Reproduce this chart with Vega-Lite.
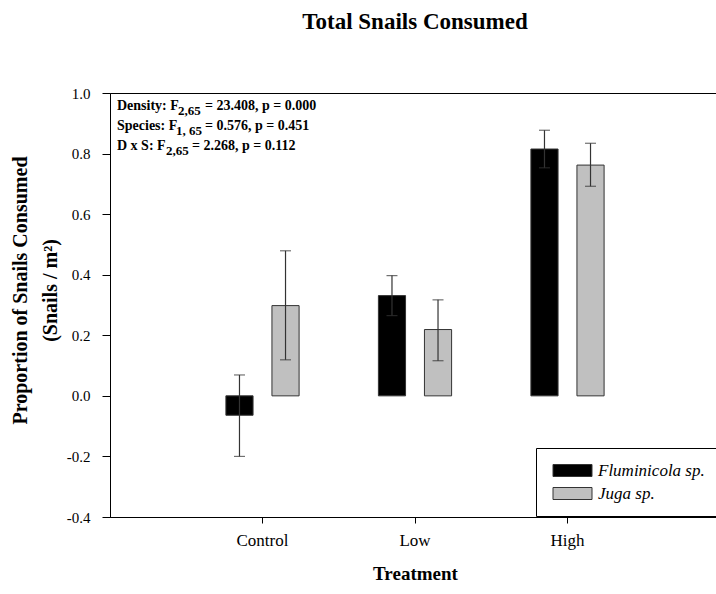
{
  "$schema": "https://vega.github.io/schema/vega-lite/v6.json",
  "width": 610,
  "height": 424,
  "autosize": "none",
  "padding": {"left": 110, "top": 93, "right": 0, "bottom": 77},
  "background": "white",
  "config": {
    "font": "Liberation Serif",
    "view": {"stroke": "#000000", "strokeWidth": 1},
    "axis": {"domainColor": "#000000", "tickColor": "#000000", "labelColor": "#000000", "titleColor": "#000000", "labelFont": "Liberation Serif", "titleFont": "Liberation Serif", "grid": false}
  },
  "title": {
    "text": "Total Snails Consumed",
    "font": "Liberation Serif",
    "fontSize": 23,
    "fontWeight": "bold",
    "color": "#000000",
    "anchor": "middle",
    "offset": 52
  },
  "datasets": {
    "bars": [
      {"treatment": "Control", "species": "Fluminicola sp.", "mean": -0.064, "lo": -0.2, "hi": 0.069},
      {"treatment": "Control", "species": "Juga sp.", "mean": 0.298, "lo": 0.119, "hi": 0.479},
      {"treatment": "Low", "species": "Fluminicola sp.", "mean": 0.331, "lo": 0.265, "hi": 0.397},
      {"treatment": "Low", "species": "Juga sp.", "mean": 0.219, "lo": 0.116, "hi": 0.317},
      {"treatment": "High", "species": "Fluminicola sp.", "mean": 0.815, "lo": 0.753, "hi": 0.877},
      {"treatment": "High", "species": "Juga sp.", "mean": 0.762, "lo": 0.692, "hi": 0.834}
    ],
    "notes": [
      {"row": 1, "pre": "Density: F", "sub": "2,65", "post": "= 23.408, p = 0.000", "y": 0.944},
      {"row": 2, "pre": "Species: F", "sub": "1, 65", "post": "= 0.576, p = 0.451", "y": 0.878},
      {"row": 3, "pre": "D x S: F", "sub": "2,65", "post": "= 2.268, p = 0.112", "y": 0.811}
    ]
  },
  "layer": [
    {
      "data": {"name": "bars"},
      "mark": {"type": "bar", "stroke": "#333333", "strokeWidth": 1},
      "encoding": {
        "x": {
          "field": "treatment", "type": "nominal",
          "sort": ["Control", "Low", "High"],
          "scale": {"paddingInner": 0.52, "paddingOuter": 0.76},
          "axis": {"title": "Treatment", "labelAngle": 0, "labelFontSize": 17, "labelPadding": 9, "tickSize": 6, "titleFontSize": 19, "titleFontWeight": "bold", "titlePadding": 16}
        },
        "xOffset": {
          "field": "species", "type": "nominal",
          "sort": ["Fluminicola sp.", "Juga sp."],
          "scale": {"paddingInner": 0.41, "paddingOuter": 0}
        },
        "y": {
          "field": "mean", "type": "quantitative",
          "scale": {"domain": [-0.4, 1.0], "nice": false, "zero": false},
          "axis": {
            "values": [-0.4, -0.2, 0, 0.2, 0.4, 0.6, 0.8, 1.0],
            "format": ".1f",
            "labelExpr": "replace(datum.label, '−', '-')",
            "labelFontSize": 15,
            "labelPadding": 12,
            "tickSize": 8,
            "title": ["Proportion of Snails Consumed", "(Snails / m²)"],
            "titleFontSize": 20,
            "titleFontWeight": "bold",
            "titleLineHeight": 30,
            "titlePadding": 6,
            "titleY": 197
          }
        },
        "color": {
          "field": "species", "type": "nominal",
          "sort": ["Fluminicola sp.", "Juga sp."],
          "scale": {"domain": ["Fluminicola sp.", "Juga sp."], "range": ["#000000", "#c0c0c0"]},
          "legend": {
            "title": null,
            "orient": "none",
            "legendX": 426,
            "legendY": 355,
            "strokeColor": "#000000",
            "fillColor": "#ffffff",
            "padding": 14,
            "symbolType": "M-3.25,-1H3.25V1H-3.25Z",
            "symbolSize": 144,
            "symbolOffset": 14,
            "symbolStrokeColor": "#333333",
            "symbolStrokeWidth": 1,
            "symbolOpacity": 1,
            "labelFont": "Liberation Serif",
            "labelFontStyle": "italic",
            "labelFontSize": 17,
            "labelColor": "#000000",
            "labelOffset": 17,
            "rowPadding": 5
          }
        }
      }
    },
    {
      "data": {"name": "bars"},
      "mark": {"type": "rule", "color": "#333333", "strokeWidth": 1.2},
      "encoding": {
        "x": {"field": "treatment", "type": "nominal", "sort": ["Control", "Low", "High"]},
        "xOffset": {"field": "species", "type": "nominal", "sort": ["Fluminicola sp.", "Juga sp."]},
        "y": {"field": "lo", "type": "quantitative"},
        "y2": {"field": "hi"}
      }
    },
    {
      "data": {"name": "bars"},
      "mark": {"type": "tick", "color": "#333333", "size": 11, "thickness": 1.2, "orient": "horizontal"},
      "encoding": {
        "x": {"field": "treatment", "type": "nominal", "sort": ["Control", "Low", "High"]},
        "xOffset": {"field": "species", "type": "nominal", "sort": ["Fluminicola sp.", "Juga sp."]},
        "y": {"field": "lo", "type": "quantitative"}
      }
    },
    {
      "data": {"name": "bars"},
      "mark": {"type": "tick", "color": "#333333", "size": 11, "thickness": 1.2, "orient": "horizontal"},
      "encoding": {
        "x": {"field": "treatment", "type": "nominal", "sort": ["Control", "Low", "High"]},
        "xOffset": {"field": "species", "type": "nominal", "sort": ["Fluminicola sp.", "Juga sp."]},
        "y": {"field": "hi", "type": "quantitative"}
      }
    },
    {
      "mark": {"type": "rule", "color": "#333333", "strokeWidth": 1},
      "encoding": {"y": {"datum": 0, "type": "quantitative"}}
    },
    {
      "data": {"name": "notes"},
      "mark": {"type": "text", "align": "left", "baseline": "alphabetic", "font": "Liberation Serif", "fontSize": 14, "fontWeight": "bold", "color": "#000000"},
      "encoding": {"x": {"value": 7}, "y": {"field": "y", "type": "quantitative"}, "text": {"field": "pre"}}
    },
    {
      "data": {"name": "notes"},
      "transform": [{"filter": "datum.row == 1"}],
      "mark": {"type": "text", "align": "left", "baseline": "alphabetic", "dy": 5, "font": "Liberation Serif", "fontSize": 13, "fontWeight": "bold", "color": "#000000"},
      "encoding": {"x": {"value": 68}, "y": {"field": "y", "type": "quantitative"}, "text": {"field": "sub"}}
    },
    {
      "data": {"name": "notes"},
      "transform": [{"filter": "datum.row == 2"}],
      "mark": {"type": "text", "align": "left", "baseline": "alphabetic", "dy": 5, "font": "Liberation Serif", "fontSize": 13, "fontWeight": "bold", "color": "#000000"},
      "encoding": {"x": {"value": 66}, "y": {"field": "y", "type": "quantitative"}, "text": {"field": "sub"}}
    },
    {
      "data": {"name": "notes"},
      "transform": [{"filter": "datum.row == 3"}],
      "mark": {"type": "text", "align": "left", "baseline": "alphabetic", "dy": 5, "font": "Liberation Serif", "fontSize": 13, "fontWeight": "bold", "color": "#000000"},
      "encoding": {"x": {"value": 56}, "y": {"field": "y", "type": "quantitative"}, "text": {"field": "sub"}}
    },
    {
      "data": {"name": "notes"},
      "transform": [{"filter": "datum.row <= 2"}],
      "mark": {"type": "text", "align": "left", "baseline": "alphabetic", "font": "Liberation Serif", "fontSize": 14, "fontWeight": "bold", "color": "#000000"},
      "encoding": {"x": {"value": 95}, "y": {"field": "y", "type": "quantitative"}, "text": {"field": "post"}}
    },
    {
      "data": {"name": "notes"},
      "transform": [{"filter": "datum.row == 3"}],
      "mark": {"type": "text", "align": "left", "baseline": "alphabetic", "font": "Liberation Serif", "fontSize": 14, "fontWeight": "bold", "color": "#000000"},
      "encoding": {"x": {"value": 82}, "y": {"field": "y", "type": "quantitative"}, "text": {"field": "post"}}
    }
  ]
}
